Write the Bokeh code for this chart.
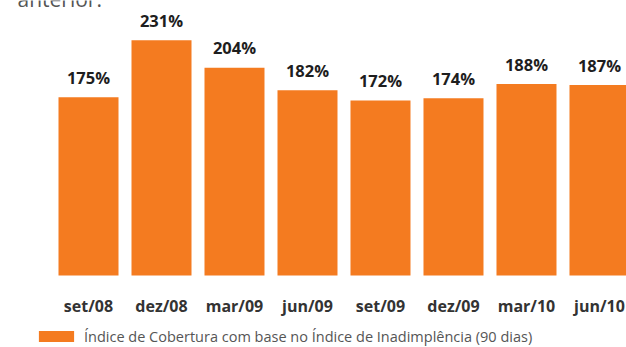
from bokeh.plotting import figure
from bokeh.models import Range1d, ColumnDataSource, Legend, LegendItem, Label
from bokeh.core.properties import value
from bokeh.embed import file_html
from bokeh.resources import INLINE

categories = ["set/08", "dez/08", "mar/09", "jun/09", "set/09", "dez/09", "mar/10", "jun/10"]
values = [175, 231, 204, 182, 172, 174, 188, 187]
value_labels = ["175%", "231%", "204%", "182%", "172%", "174%", "188%", "187%"]
series_name = "Índice de Cobertura com base no Índice de Inadimplência (90 dias)"
top_text = "anterior."

ORANGE = "#F47B20"

src = ColumnDataSource(dict(
    x=list(range(len(categories))),
    cat=categories,
    top=values,
    lab=value_labels,
    zero=[0] * len(categories),
))

p = figure(width=626, height=347, output_backend="svg", toolbar_location=None,
           x_range=Range1d(-1.2055, 7.370), y_range=Range1d(-70.7, 270.1),
           min_border=0, min_border_left=0, min_border_right=0,
           min_border_top=0, min_border_bottom=0)
p.axis.visible = False
p.grid.visible = False
p.outline_line_color = None
p.background_fill_color = "white"
p.border_fill_color = "white"

bars = p.vbar(x="x", top="top", bottom=0, width=0.822, source=src,
              fill_color=ORANGE, line_color=None)

p.text(x="x", y="top", text="lab", source=src, y_offset=-20,
       text_align="center", text_baseline="alphabetic",
       text_font=value("Open Sans"), text_font_style="bold",
       text_font_size="16.5px", text_color="#1e1e1e")

p.text(x="x", y="zero", text="cat", source=src, y_offset=30,
       text_align="center", text_baseline="alphabetic",
       text_font=value("Open Sans"), text_font_style="bold",
       text_font_size="16px", text_color="#333333")

p.add_layout(Label(x=17, y=349, x_units="screen", y_units="screen",
                   text=top_text, text_font="Open Sans",
                   text_font_size="21px", text_color="#555555",
                   text_baseline="alphabetic"))

legend = Legend(items=[LegendItem(label=series_name, renderers=[bars])],
                location=(34, -1), orientation="vertical",
                glyph_width=44, glyph_height=14, label_standoff=6,
                label_height=24, padding=0, margin=0, spacing=0,
                border_line_color=None, background_fill_alpha=0,
                label_text_font="Open Sans", label_text_font_size="14.5px",
                label_text_color="#555555")
p.add_layout(legend)

open("out.html", "w").write(file_html(p, INLINE))
